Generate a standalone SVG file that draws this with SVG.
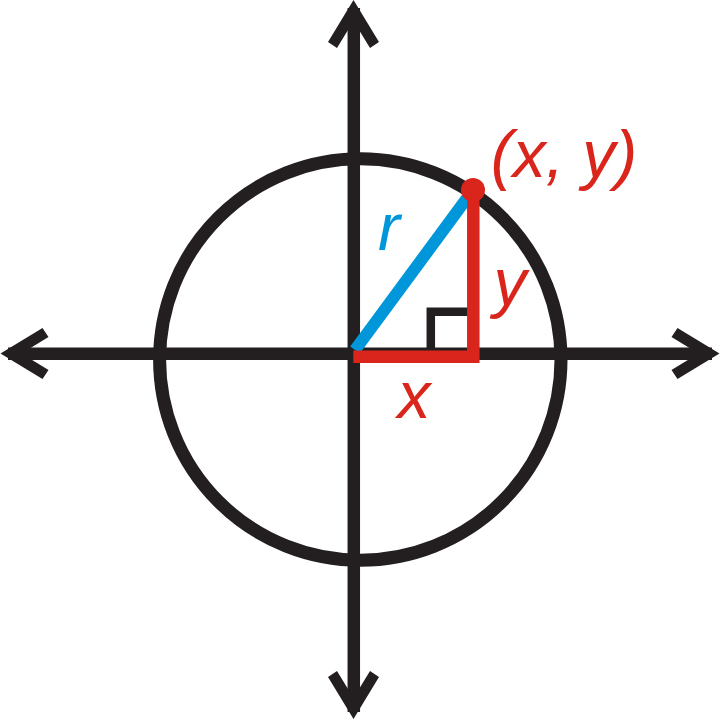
<svg xmlns="http://www.w3.org/2000/svg" xmlns:xlink="http://www.w3.org/1999/xlink" width="720" height="720" viewBox="0 0 720 720">
  <style>
    .ax { stroke: #231F20; stroke-width: 12.5; fill: none; }
    .head { fill: #231F20; }
    .lbl { font-family: "Liberation Sans", Arial, sans-serif; font-style: italic; font-size: 66px; text-anchor: middle; }
    .red { fill: #DA251D; }
    .blue { fill: #0096DA; }
  </style>
  <defs>
    <path id="arrowhead" d="M0,0 L25.5,42 L16.5,48 L0,21 L-16.5,48 L-25.5,42 Z"/>
  </defs>
  <rect width="720" height="720" fill="#FFFFFF"/>
  <g id="axes">
    <line class="ax" x1="353.8" y1="8" x2="353.8" y2="712"/>
    <line class="ax" x1="8" y1="353.7" x2="712" y2="353.7"/>
    <use class="head" xlink:href="#arrowhead" transform="translate(353.5,0)"/>
    <use class="head" xlink:href="#arrowhead" transform="translate(353.5,719) rotate(180)"/>
    <use class="head" xlink:href="#arrowhead" transform="translate(0.5,353.5) rotate(-90)"/>
    <use class="head" xlink:href="#arrowhead" transform="translate(719.5,353.5) rotate(90)"/>
  </g>
  <g id="circle">
    <circle cx="360.3" cy="359.5" r="200.7" fill="none" stroke="#231F20" stroke-width="13"/>
  </g>
  <g id="right-angle">
    <polyline points="430.8,352 430.8,311.7 470,311.7" fill="none" stroke="#231F20" stroke-width="8.5" stroke-linejoin="miter"/>
  </g>
  <g id="radius">
    <line x1="355" y1="350" x2="470" y2="194" stroke="#0096DA" stroke-width="12"/>
  </g>
  <g id="legs">
    <polyline points="353.3,356.7 473.3,356.7 473.3,192" fill="none" stroke="#DA251D" stroke-width="12.5" stroke-linejoin="miter"/>
  </g>
  <g id="point">
    <circle cx="473" cy="190" r="12" fill="#DA251D"/>
  </g>
  <g id="labels">
    <text class="lbl red" x="564" y="177">(x, y)</text>
    <text class="lbl blue" x="389" y="250">r</text>
    <text class="lbl red" x="510" y="305">y</text>
    <text class="lbl red" x="414" y="418">x</text>
  </g>
</svg>
